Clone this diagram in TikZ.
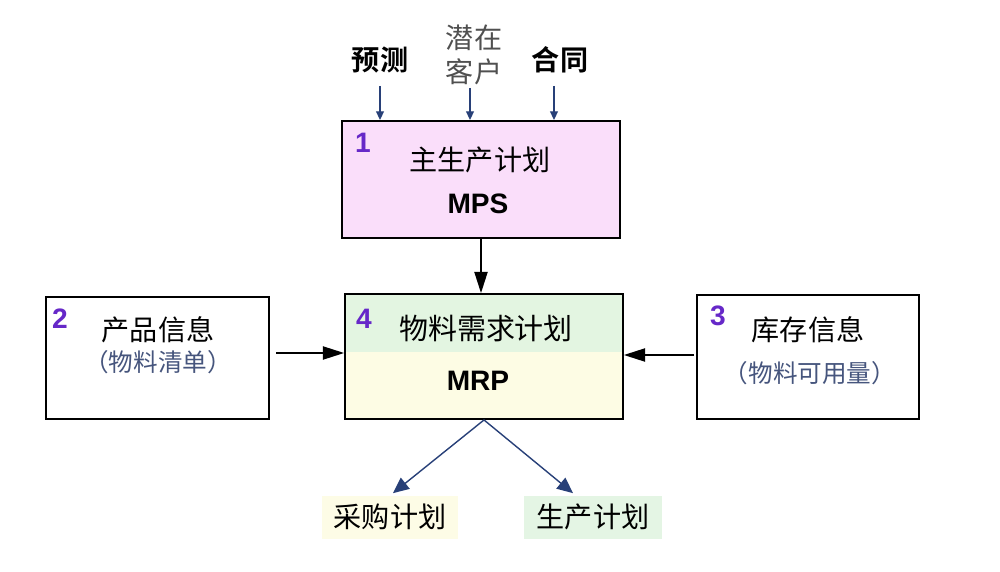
\documentclass[tikz,border=0pt]{standalone}
\usepackage{fontspec}
\setmainfont{Liberation Sans}
\newfontfamily\cjk{Noto Sans CJK SC}[BoldFont={Noto Sans CJK SC Bold}]
\newfontfamily\arialb{Liberation Sans}
\usetikzlibrary{arrows.meta,calc}
\definecolor{mpspink}{RGB}{250,222,250}
\definecolor{mrpgreen}{RGB}{227,245,225}
\definecolor{mrpcream}{RGB}{253,252,228}
\definecolor{lblcream}{RGB}{253,252,230}
\definecolor{lblgreen}{RGB}{228,245,228}
\definecolor{numpurple}{RGB}{102,40,200}
\definecolor{navy}{RGB}{40,64,120}
\definecolor{subblue}{RGB}{70,85,125}
\definecolor{softgray}{RGB}{80,80,80}
\tikzset{
  box/.style={draw=black, line width=1.1pt, inner sep=0pt},
  num/.style={font=\arialb\bfseries\fontsize{16}{16}\selectfont, text=numpurple},
  cjkt/.style={font=\cjk\fontsize{16}{18}\selectfont},
  cjkb/.style={font=\cjk\bfseries\fontsize{16}{18}\selectfont},
  subt/.style={font=\cjk\fontsize{14}{16}\selectfont, text=subblue},
  latinb/.style={font=\arialb\bfseries\fontsize{16}{16}\selectfont},
  blk/.style={draw=black, line width=0.8pt, -{Triangle[length=12pt,width=7.5pt]}},
  nvsmall/.style={draw=navy, line width=0.8pt, -{Triangle[length=5pt,width=4.5pt]}},
  nvbig/.style={draw=navy, line width=0.8pt, -{Triangle[length=9pt,width=8pt]}},
}
\begin{document}
\begin{tikzpicture}[x=0.02cm, y=-0.02cm]
\useasboundingbox (0,0) rectangle (1000,571);
% MPS box
\node[box, fill=mpspink, minimum width=5.56cm, minimum height=2.34cm] (mps) at (481,179.5) {};
\node[num] (n1) at (363,143) {1};
\node[cjkt] (mpst) at (480,160) {主生产计划};
\node[latinb] (mpsl) at (478,204) {MPS};
% top inputs
\node[cjkb] (yc) at (380,60) {预测};
\node[cjkt, text=softgray, align=center, font=\cjk\fontsize{16}{19}\selectfont] (qz) at (474,55) {潜在\\客户};
\node[cjkb] (ht) at (560,60) {合同};
\coordinate (ycs) at (380,86);
\coordinate (qzs) at (470,88);
\coordinate (hts) at (554,86);
\draw[nvsmall] (ycs) -- (ycs |- mps.north);
\draw[nvsmall] (qzs) -- (qzs |- mps.north);
\draw[nvsmall] (hts) -- (hts |- mps.north);
% MRP box
\fill[mrpgreen] (345,294) rectangle (623,352);
\fill[mrpcream] (345,352) rectangle (623,419);
\node[box, minimum width=5.56cm, minimum height=2.5cm] (mrp) at (484,356.5) {};
\node[num] (n4) at (364,319) {4};
\node[cjkt, font=\cjk\fontsize{16.5}{18}\selectfont] (mrpt) at (486,329) {物料需求计划};
\node[latinb] (mrpl) at (478,381) {MRP};
% product box
\node[box, fill=white, minimum width=4.46cm, minimum height=2.44cm] (prod) at (157.5,358) {};
\node[num] (n2) at (60,319) {2};
\node[cjkt] (prodt) at (158,330) {产品信息};
\node[subt] (prods) at (158,362) {（物料清单）};
% inventory box
\node[box, fill=white, minimum width=4.44cm, minimum height=2.48cm] (inv) at (808,357) {};
\node[num] (n3) at (718,316) {3};
\node[cjkt] (invt) at (808,330) {库存信息};
\node[subt] (invs) at (810,373) {（物料可用量）};
% arrows to MRP
\draw[blk] (mps.south) -- (mps.south |- mrp.north);
\coordinate (pa) at (276,353);
\draw[blk] (pa) -- (pa -| mrp.west);
\coordinate (ia) at (694,355);
\draw[blk] (ia) -- (ia -| mrp.east);
% outputs
\node[cjkt, fill=lblcream, minimum width=2.72cm, minimum height=0.86cm] (cg) at (390,517) {采购计划};
\node[cjkt, fill=lblgreen, minimum width=2.76cm, minimum height=0.86cm] (sc) at (593,517) {生产计划};
\draw[nvbig] (mrp.south) -- ($(cg.north)+(3,-2)$);
\draw[nvbig] (mrp.south) -- ($(sc.north)+(-20,-2)$);
\end{tikzpicture}
\end{document}
